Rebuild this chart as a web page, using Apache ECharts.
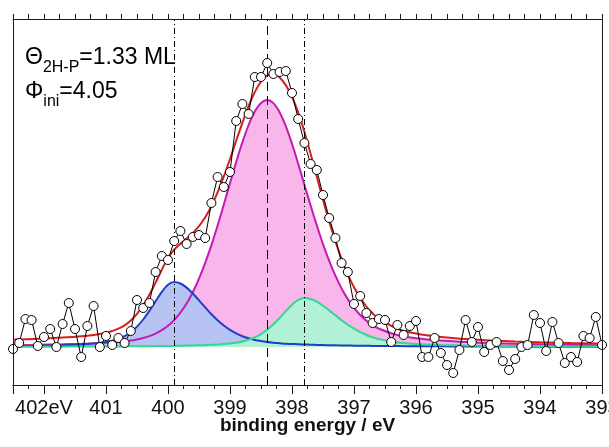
<!DOCTYPE html>
<html>
<head>
<meta charset="utf-8">
<script src="https://cdn.jsdelivr.net/npm/echarts@6/dist/echarts.min.js"></script>
<style>
  html, body { margin: 0; padding: 0; background: #fff; }
  #wrap { position: relative; width: 609px; height: 447px; }
  .layer { position: absolute; left: 0; top: 0; width: 609px; height: 447px; }
</style>
</head>
<body>
<div id="wrap">
  <div id="plot" class="layer"></div>
  <div id="labels" class="layer"></div>
  <div id="frame" class="layer"></div>
</div>
<script>
// N 1s region: measured intensity on a 0.1 eV grid starting at 402.5 eV (arb. units)
const scanStart = 402.5;
const scanStep = 0.1;
const measured = [
  -2, 4, 28, 27, 1, 10, 18, 0, 23, 44,
  18, -10, 21, 41, 0, 11, 2, 9, 4, 16,
  47, 39, 44, 75, 91, 87, 106, 116, 103, 110,
  112, 109, 144, 170, 160, 175, 226, 243, 233, 270,
  270, 284, 273, 275, 276, 254, 228, 204, 183, 177,
  152, 129, 109, 84, 75, 43, 51, 34, 24, 28,
  27, 5, 22, 12, 21, 26, -10, -10, 9, -6,
  -18, -26, -3, 27, 5, 20, -5, 2, 5, -14,
  -23, -12, 0, 2, 32, 24, -4, 25, 4, -16,
  -10, -15, 11, 9, 30, 2
];

// fitted components, sampled on their own energy grid
const fitEnergy = [
  402.5, 402.1, 401.7, 401.4, 401.2, 401.1, 401.0, 400.9, 400.8, 400.7,
  400.6, 400.5, 400.4, 400.3, 400.2, 400.1, 400.0, 399.9, 399.8, 399.7,
  399.6, 399.5, 399.4, 399.3, 399.2, 399.1, 399.0, 398.9, 398.8, 398.7,
  398.6, 398.5, 398.4, 398.3, 398.2, 398.1, 398.0, 397.9, 397.8, 397.7,
  397.6, 397.5, 397.4, 397.3, 397.2, 397.1, 397.0, 396.9, 396.8, 396.7,
  396.6, 396.3, 396.0, 395.6, 395.2, 394.8, 394.4, 394.0, 393.5, 393.0
];
// main component at 398.4 eV
const fitMain = [
  1.8, 2.2, 2.7, 3.2, 3.7, 4.0, 4.3, 4.7, 5.1, 5.8,
  6.5, 7.6, 9.0, 10.9, 13.4, 16.8, 21.2, 26.9, 34.3, 43.5,
  54.8, 68.4, 84.1, 101.9, 121.5, 142.4, 163.8, 185.0, 204.7, 222.0,
  235.4, 244.0, 247.0, 243.9, 234.8, 220.9, 203.2, 183.3, 162.4, 141.6,
  121.6, 102.9, 86.1, 71.3, 58.5, 47.9, 39.1, 32.0, 26.3, 21.9,
  18.4, 11.9, 8.8, 6.4, 5.0, 4.0, 3.2, 2.7, 2.2, 1.8
];
// component at 399.9 eV
const fitHigh = [
  0.9, 1.25, 1.83, 2.6, 3.4, 4.05, 4.9, 6.2, 8.1, 10.8,
  14.8, 20.4, 27.5, 36.1, 45.7, 55.1, 62.3, 65.0, 63.5, 59.4,
  53.5, 46.6, 39.6, 32.8, 26.8, 21.5, 17.1, 13.6, 10.8, 8.7,
  7.1, 5.9, 5.0, 4.3, 3.8, 3.3, 3.0, 2.7, 2.5, 2.3,
  2.1, 1.9, 1.8, 1.7, 1.55, 1.45, 1.36, 1.27, 1.19, 1.12,
  1.06, 0.89, 0.76, 0.63, 0.53, 0.45, 0.39, 0.34, 0.29, 0.25
];
// component at 397.8 eV
const fitLow = [
  0.24, 0.29, 0.35, 0.41, 0.46, 0.49, 0.52, 0.55, 0.59, 0.63,
  0.67, 0.72, 0.78, 0.84, 0.90, 0.98, 1.07, 1.17, 1.28, 1.41,
  1.56, 1.74, 1.95, 2.19, 2.5, 2.9, 3.5, 4.3, 5.5, 7.2,
  9.6, 12.9, 17.2, 22.7, 29.0, 35.9, 42.3, 47.1, 49.0, 48.0,
  45.3, 41.3, 36.6, 31.7, 26.8, 22.3, 18.3, 14.9, 12.0, 9.7,
  7.9, 4.5, 2.9, 2.0, 1.44, 1.10, 0.86, 0.70, 0.55, 0.44
];
// fit envelope (components plus background)
const fitTotal = [
  7.4, 8.2, 9.4, 10.7, 12.1, 13.0, 14.2, 16.0, 18.3, 21.7,
  26.5, 33.2, 41.7, 52.2, 64.4, 77.2, 88.9, 97.3, 103.3, 108.5,
  114.0, 120.8, 129.7, 140.8, 154.6, 170.5, 188.0, 206.3, 224.2, 240.9,
  254.9, 265.4, 271.6, 273.1, 269.6, 261.9, 250.2, 234.6, 215.3, 193.2,
  170.2, 147.3, 125.6, 105.7, 87.9, 72.7, 59.8, 49.2, 40.5, 33.7,
  28.4, 18.3, 13.5, 10.0, 8.0, 6.6, 5.5, 4.7, 4.0, 3.5
];

// peak positions marked by vertical guides
const peakHigh = 399.9;
const peakMain = 398.4;
const peakLow = 397.8;

// energy axis and tick spacing
const axisMin = 393;
const axisMax = 402.5;
const majorStep = 1;
const minorStep = 0.25;
const yMin = -38;
const yMax = 328;

const pairs = (xs, ys) => xs.map((x, i) => [x, ys[i]]);
const measuredPairs = measured.map((v, i) => [+(scanStart - i * scanStep).toFixed(2), v]);

const ink = '#1a1a1a';
const font = 'Liberation Sans, Arial, sans-serif';
const plotBox = () => ({ left: 13, right: 7, top: 19, bottom: 62, outerBoundsMode: 'none' });
const hiddenX = () => ({ type: 'value', min: axisMin, max: axisMax, inverse: true, show: false });
const hiddenY = () => ({ type: 'value', min: yMin, max: yMax, show: false });

function areaSeries(name, data, color) {
  return {
    name, type: 'line', data, smooth: 0.4, symbol: 'none',
    lineStyle: { width: 0 }, areaStyle: { color, opacity: 1 },
    silent: true, z: 1
  };
}
function curveSeries(name, data, color) {
  return {
    name, type: 'line', data, smooth: 0.4, symbol: 'none',
    lineStyle: { color, width: 2 }, silent: true, z: 3
  };
}

const richText = {
  m: { fontFamily: font, fontSize: 23, lineHeight: 26, verticalAlign: 'top', fill: '#000' },
  s: { fontFamily: font, fontSize: 16, lineHeight: 16, padding: [14, 0, 0, 0], verticalAlign: 'top', fill: '#000' }
};

// layer 1: spectrum, fitted peaks, peak guides and annotation
echarts.init(document.getElementById('plot')).setOption({
  animation: false,
  backgroundColor: '#fff',
  grid: plotBox(),
  xAxis: hiddenX(),
  yAxis: hiddenY(),
  graphic: [
    { type: 'text', left: 25, top: 46, silent: true,
      style: { text: '{m|Θ}{s|2H-P}{m|=1.33 ML}', rich: richText } },
    { type: 'text', left: 25, top: 80, silent: true,
      style: { text: '{m|Φ}{s|ini}{m|=4.05}', rich: richText } }
  ],
  series: [
    areaSeries('main fill', pairs(fitEnergy, fitMain), '#f8b6ea'),
    areaSeries('high fill', pairs(fitEnergy, fitHigh), '#b6c3f3'),
    areaSeries('low fill', pairs(fitEnergy, fitLow), '#b2f1d6'),
    curveSeries('main', pairs(fitEnergy, fitMain), '#c41cb2'),
    curveSeries('high', pairs(fitEnergy, fitHigh), '#1e3fc6'),
    curveSeries('low', pairs(fitEnergy, fitLow), '#2fd893'),
    curveSeries('envelope', pairs(fitEnergy, fitTotal), '#d62020'),
    {
      name: 'measured', type: 'line', data: measuredPairs,
      symbol: 'circle', symbolSize: 9, showAllSymbol: true,
      lineStyle: { color: '#000', width: 1 },
      itemStyle: { color: '#fff', borderColor: '#000', borderWidth: 1 },
      z: 5, silent: true,
      markLine: {
        silent: true, symbol: 'none', label: { show: false },
        data: [
          { xAxis: peakHigh, lineStyle: { color: '#000', width: 1, type: [6, 3, 1, 3] } },
          { xAxis: peakMain, lineStyle: { color: '#000', width: 1, type: [9, 5] } },
          { xAxis: peakLow, lineStyle: { color: '#000', width: 1, type: [6, 3, 1, 3] } }
        ]
      }
    }
  ]
});

// layer 2: tick labels and axis title
echarts.init(document.getElementById('labels')).setOption({
  animation: false,
  grid: plotBox(),
  xAxis: {
    type: 'value', min: axisMin, max: axisMax, inverse: true,
    position: 'bottom', interval: majorStep,
    splitLine: { show: false },
    axisLine: { show: false, onZero: false },
    axisTick: { show: false },
    axisLabel: {
      show: true, interval: 0, margin: 13, color: '#111',
      fontFamily: font, fontSize: 20, hideOverlap: false,
      alignMinLabel: 'center', alignMaxLabel: 'center',
      formatter: v => (Number.isInteger(v) ? (v === 402 ? '402eV' : String(v)) : '')
    },
    name: 'binding energy / eV', nameLocation: 'middle', nameGap: 31, nameMoveOverlap: false,
    nameTextStyle: { fontFamily: font, fontSize: 19, fontWeight: 'bold', color: '#111' }
  },
  yAxis: hiddenY(),
  series: []
});

// layer 3: plot frame with ticks on top and bottom
const frameX = (position, interval, length) => ({
  type: 'value', min: axisMin, max: axisMax, inverse: true,
  position, interval,
  splitLine: { show: false },
  axisLine: { show: true, onZero: false, lineStyle: { color: ink } },
  axisTick: { show: true, length, lineStyle: { color: ink } },
  axisLabel: { show: false }
});
const frameY = position => ({
  type: 'value', min: yMin, max: yMax, position,
  axisLine: { show: true, onZero: false, lineStyle: { color: ink } },
  axisTick: { show: false }, axisLabel: { show: false }, splitLine: { show: false }
});
echarts.init(document.getElementById('frame')).setOption({
  animation: false,
  grid: plotBox(),
  xAxis: [
    frameX('bottom', majorStep, 9),
    frameX('bottom', minorStep, 4),
    frameX('top', minorStep, 5)
  ],
  yAxis: [frameY('left'), frameY('right')],
  series: [{ type: 'line', data: [], silent: true }]
});
</script>
</body>
</html>
